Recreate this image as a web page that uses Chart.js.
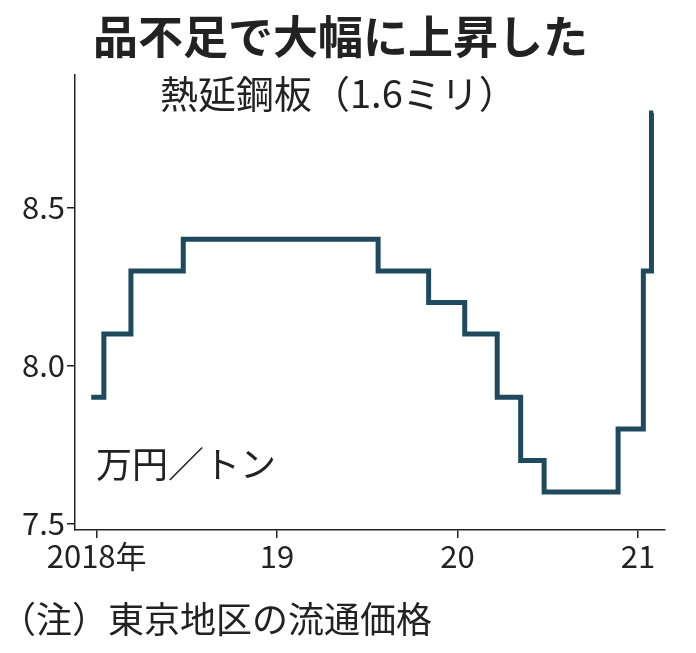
<!DOCTYPE html>
<html><head><meta charset="utf-8">
<script src="https://cdn.jsdelivr.net/npm/chart.js@4"></script>
<style>
body{margin:0;background:#fff;font-family:"Noto Sans CJK JP",sans-serif;color:#222}
#wrap{position:relative;width:696px;height:653px}
.t{position:absolute;white-space:nowrap;line-height:1}
</style></head><body>
<div id="wrap">
<canvas id="c" width="696" height="653"></canvas>
<div class="t" style="left:93px;top:12px;font-size:45px;font-weight:bold;letter-spacing:0">品不足で大幅に上昇した</div>
<div class="t" style="left:160px;top:73px;font-size:38px">熱延鋼板（1.6ミリ）</div>
<div class="t" style="left:96px;top:444px;font-size:36px">万円／トン</div>
<div class="t" style="left:0;top:599px;font-size:36px">（注）東京地区の流通価格</div>
</div>
<script>
// 年（小数）と価格（万円/トン）
const stepYears = [2017.97, 2018.04, 2018.19, 2018.48, 2019.56, 2019.84, 2020.04, 2020.22, 2020.35, 2020.48, 2020.89, 2021.03, 2021.075, 2021.085];
const stepPrices = [7.9, 8.1, 8.3, 8.4, 8.3, 8.2, 8.1, 7.9, 7.7, 7.6, 7.8, 8.3, 8.8, 8.8];
const yTicks = [7.5, 8.0, 8.5];
const xTicks = [2018, 2019, 2020, 2021];
const xLabels = ['2018年', '19', '20', '21'];

const tickFont = { family: '"Noto Sans CJK JP", sans-serif', size: 31 };

new Chart(document.getElementById('c'), {
    type: 'line',
    data: {
        datasets: [{
            data: stepYears.map((x, i) => ({ x: x, y: stepPrices[i] })),
            stepped: true,
            borderColor: '#1f4a5e',
            borderWidth: 5,
            pointRadius: 0,
            fill: false
        }]
    },
    options: {
        responsive: false,
        animation: false,
        layout: { padding: { top: 75, right: 31 } },
        plugins: { legend: { display: false }, tooltip: { enabled: false } },
        scales: {
            x: {
                type: 'linear', min: 2017.88, max: 2021.15,
                afterBuildTicks: s => { s.ticks = xTicks.map(v => ({ value: v })); },
                afterFit: s => { s.height = 123; },
                ticks: { color: '#222', font: tickFont, padding: 0, maxRotation: 0,
                    callback: v => xLabels[xTicks.indexOf(v)] },
                grid: { drawOnChartArea: false, tickLength: 8, color: '#222', lineWidth: 1.5 },
                border: { color: '#222', width: 1.5 }
            },
            y: {
                min: 7.48, max: 8.92,
                afterBuildTicks: s => { s.ticks = yTicks.map(v => ({ value: v })); },
                afterFit: s => { s.width = 75; },
                ticks: { color: '#222', font: tickFont, padding: 2, callback: v => v.toFixed(1) },
                grid: { drawOnChartArea: false, tickLength: 8, color: '#222', lineWidth: 1.5 },
                border: { color: '#222', width: 1.5 }
            }
        }
    }
});
</script>
</body></html>
